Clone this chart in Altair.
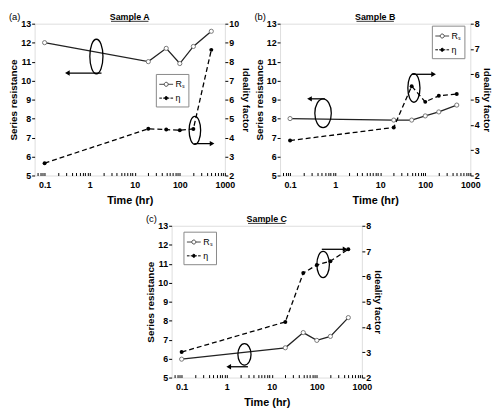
import altair as alt
import pandas as pd

# ---------------- data ----------------
time_hr = [0.1, 20, 50, 100, 200, 500]
rs_a = [12.0, 11.0, 11.7, 10.9, 11.8, 12.6]
eta_a = [2.65, 4.46, 4.42, 4.38, 4.45, 8.62]
rs_b = [8.0, 7.92, 7.92, 8.14, 8.35, 8.71]
eta_b = [3.38, 3.9, 5.53, 4.91, 5.15, 5.22]
rs_c = [5.97, 6.57, 7.37, 6.96, 7.17, 8.16]
eta_c = [3.01, 4.2, 6.13, 6.45, 6.6, 7.07]

panel_letters = ["(a)", "(b)", "(c)"]
panel_titles = ["Sample A", "Sample B", "Sample C"]
series_labels = ["Rₛ", "η"]
rs_axis_range = [5, 13]
eta_axis_max = [10, 8, 8]
x_major = [0.1, 1, 10, 100, 1000]

# annotation ellipses (which axis, time, value) and arrows (axis, from, to, value)
ell_side = [["left", "right"], ["left", "right"], ["left", "right"]]
ell_t = [[1.41, 216], [0.54, 56], [2.48, 138]]
ell_v = [[11.27, 4.38], [8.28, 5.46], [6.22, 6.47]]
arr_t1 = [[1.83, 209], [0.59, 50], [2.96, 129]]
arr_t2 = [[0.32, 520], [0.27, 153], [1.11, 424]]
arr_v = [[10.4, 3.68], [9.04, 6.0], [5.57, 7.07]]

# ---------------- styling ----------------
F = "Liberation Sans"
W, H = 193, 154
ELL_H = [[35, 28.3], [29, 29], [21.7, 26.7]]
ELL_W = [[13.3, 11.7], [16.7, 12.3], [13.3, 12.7]]
LEGEND_XY = [(123, 51), (154, 2), (12, 6)]

x_ticks = [0.07, 0.08, 0.09]
for e in [0.1, 1, 10, 100]:
    x_ticks += [round(k * e, 6) for k in range(1, 10)]
x_ticks.append(1000)

K = 0.5523


def ellipse_path(rx, cx=0.0, ry=1.0):
    return (f"M{cx},{-ry}C{cx + K * rx},{-ry} {cx + rx},{-K * ry} {cx + rx},0"
            f"C{cx + rx},{K * ry} {cx + K * rx},{ry} {cx},{ry}"
            f"C{cx - K * rx},{ry} {cx - rx},{K * ry} {cx - rx},0"
            f"C{cx - rx},{-K * ry} {cx - K * rx},{-ry} {cx},{-ry}Z")


RS_SYM = "M-1,0H-0.29M0.29,0H1" + ellipse_path(0.29, 0, 0.29)
ETA_SYM = "M-1,0H-0.62M-0.45,0H-0.24M0.24,0H0.45M0.62,0H1" + ellipse_path(0.22, 0, 0.22)

x_scale = alt.Scale(type="log", domain=[0.06, 1000], nice=False)
x_axis = alt.Axis(
    title="Time (hr)", values=x_ticks, format="~g",
    labelExpr="indexof([0.1, 1, 10, 100, 1000], datum.value) >= 0 ? datum.label : ''",
    offset=-3, tickSize=3, domain=False, grid=False, labelPadding=5,
    labelOverlap=False, labelFlush=False,
    labelFont=F, labelFontSize=9, labelFontWeight="bold", labelColor="black",
    titleFont=F, titleFontSize=11, titleFontWeight="bold", titleColor="black",
    titlePadding=5, tickColor="black",
)


def y_axis(title, values, orient):
    return alt.Axis(
        title=title, values=values, orient=orient, tickSize=3, domain=False,
        grid=False, labelPadding=1, titlePadding=2,
        labelFont=F, labelFontSize=9, labelFontWeight="bold", labelColor="black",
        titleFont=F, titleFontSize=10, titleFontWeight="bold", titleColor="black",
        tickColor="black",
    )


def panel(i, rs, eta):
    x_enc = alt.X("t:Q", scale=x_scale, axis=x_axis)
    yl = alt.Y("v:Q", scale=alt.Scale(domain=rs_axis_range, nice=False),
               axis=y_axis("Series resistance", list(range(5, 14)), "left"))
    yr = alt.Y("v:Q", scale=alt.Scale(domain=[2, eta_axis_max[i]], nice=False),
               axis=y_axis("Ideality factor", list(range(2, eta_axis_max[i] + 1)), "right"))

    df_rs = pd.DataFrame({"t": time_hr, "v": rs})
    df_eta = pd.DataFrame({"t": time_hr, "v": eta})

    left = [
        alt.Chart(df_rs).mark_line(color="#222", strokeWidth=1.3).encode(x=x_enc, y=yl),
        alt.Chart(df_rs).mark_point(shape="circle", filled=True, fill="white",
                                    stroke="#777", strokeWidth=1, size=18, opacity=1)
        .encode(x=x_enc, y=yl),
    ]
    right = [
        alt.Chart(df_eta).mark_line(color="black", strokeWidth=1.3, strokeDash=[5, 3])
        .encode(x=x_enc, y=yr),
        alt.Chart(df_eta).mark_point(shape="circle", filled=True, color="black", size=16,
                                     opacity=1).encode(x=x_enc, y=yr),
    ]

    for j in range(len(ell_t[i])):
        yy = yl if ell_side[i][j] == "left" else yr
        target = left if ell_side[i][j] == "left" else right
        e_df = pd.DataFrame({"t": [ell_t[i][j]], "v": [ell_v[i][j]]})
        h = ELL_H[i][j]
        rx = ELL_W[i][j] / h
        target.append(
            alt.Chart(e_df).mark_point(shape=ellipse_path(rx), size=h * h, filled=False,
                                       stroke="black", strokeWidth=1.3, opacity=1)
            .encode(x=x_enc, y=yy)
        )
        a_df = pd.DataFrame({"t": [arr_t1[i][j]], "t2": [arr_t2[i][j]], "v": [arr_v[i][j]]})
        target.append(
            alt.Chart(a_df).mark_rule(color="black", strokeWidth=1.3)
            .encode(x=x_enc, x2=alt.X2("t2"), y=yy)
        )
        head = "triangle-left" if arr_t2[i][j] < arr_t1[i][j] else "triangle-right"
        h_df = pd.DataFrame({"t": [arr_t2[i][j]], "v": [arr_v[i][j]]})
        target.append(
            alt.Chart(h_df).mark_point(shape=head, filled=True, color="black", size=30,
                                       opacity=1).encode(x=x_enc, y=yy)
        )

    lx, ly = LEGEND_XY[i]
    eta_name = series_labels[1]
    leg = alt.Legend(
        orient="none", legendX=lx, legendY=ly, title=None,
        labelFont=F, labelFontSize=9, labelColor="black",
        symbolSize=196, padding=3, rowPadding=1, labelOffset=2,
        strokeColor="#888", fillColor="white",
        symbolType={"expr": f"datum.value === '{eta_name}' ? '{ETA_SYM}' : '{RS_SYM}'"},
        symbolStrokeColor={"expr": f"datum.value === '{eta_name}' ? 'black' : '#444'"},
        symbolStrokeWidth=1, symbolOpacity=1,
    )
    leg_df = pd.DataFrame({"series": series_labels})
    right.append(
        alt.Chart(leg_df).transform_filter("datum.series == 'none'")
        .mark_point(filled=True, stroke="black", strokeWidth=1)
        .encode(
            x=alt.value(0), y=alt.value(0),
            fill=alt.Fill("series:N", scale=alt.Scale(domain=series_labels,
                                                      range=["white", "black"]), legend=leg),
        )
    )

    t_df = pd.DataFrame({"label": [panel_titles[i]]})
    l_df = pd.DataFrame({"label": [panel_letters[i]]})
    deco = [
        alt.Chart(t_df).mark_text(font=F, fontSize=9, fontWeight="bold", align="center",
                                  baseline="alphabetic", color="black")
        .encode(x=alt.value(W / 2), y=alt.value(-4), text="label:N"),
        alt.Chart(t_df).mark_rule(color="black", strokeWidth=0.8)
        .encode(x=alt.value(W / 2 - 19), x2=alt.value(W / 2 + 19), y=alt.value(-2.4)),
        alt.Chart(l_df).mark_text(font=F, fontSize=9.5, align="left",
                                  baseline="alphabetic", color="black")
        .encode(x=alt.value(-26), y=alt.value(-4), text="label:N"),
    ]

    return (
        alt.layer(alt.layer(*left), alt.layer(*right), *deco)
        .resolve_scale(y="independent")
        .properties(width=W, height=H)
    )


pa = panel(0, rs_a, eta_a)
pb = panel(1, rs_b, eta_b)
pc = panel(2, rs_c, eta_c)

spacer = (
    alt.Chart(pd.DataFrame({"a": [0]}))
    .mark_point(opacity=0)
    .encode(x=alt.value(0), y=alt.value(0))
    .properties(width=119, height=10, view=alt.ViewBackground(stroke=None))
)

row1 = alt.hconcat(pa, pb, spacing=56, bounds="flush").resolve_scale(fill="independent")
row2 = alt.hconcat(spacer, pc, spacing=20, bounds="flush").resolve_scale(fill="independent")

chart = (
    alt.vconcat(row1, row2, spacing=7)
    .resolve_scale(fill="independent")
    .properties(padding={"left": 0, "top": 0, "right": 0, "bottom": 0})
    .configure_view(stroke="black", strokeWidth=1.4)
    .configure(background="white")
)

chart.save("out.html", embed_options={"renderer": "svg", "actions": False})
